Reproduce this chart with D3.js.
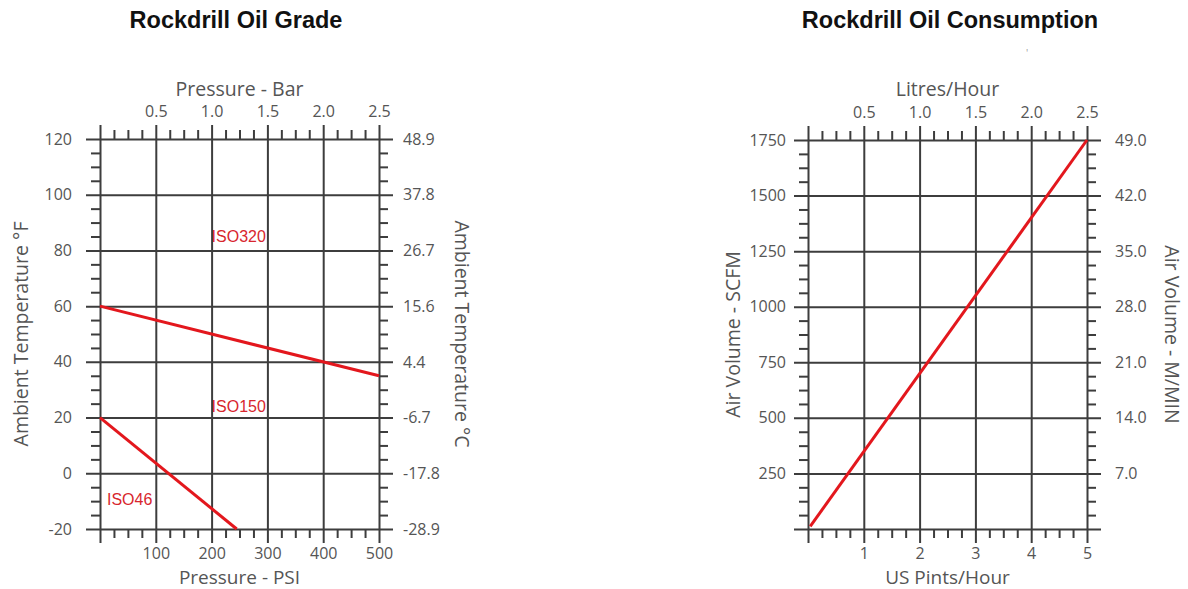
<!DOCTYPE html>
<html>
<head>
<meta charset="utf-8">
<script src="https://cdn.jsdelivr.net/npm/d3@7"></script>
<style>
  html, body { margin: 0; padding: 0; background: #ffffff; }
  svg { display: block; }
  .axis text { font-family: "Open Sans", sans-serif; font-size: 16px; fill: #555555; }
  .axis path.domain { display: none; }
  .axis line { stroke: #3d3d3d; stroke-width: 2; }
  .atitle { font-family: "Open Sans", sans-serif; font-size: 19.5px; fill: #555555; }
  .btitle { font-family: "Open Sans", sans-serif; font-size: 19px; fill: #555555; }
  .ctitle { font-family: "Liberation Sans", Arial, sans-serif; font-size: 23.5px; font-weight: bold; fill: #111111; }
  .iso { font-family: "Liberation Sans", Arial, sans-serif; font-size: 16px; fill: #d8262e; }
</style>
</head>
<body>
<svg id="chart" width="1188" height="589"></svg>
<script>
// ---------------- Chart 1: Rockdrill Oil Grade ----------------
const gradeTitle = "Rockdrill Oil Grade";
const psiTicks = [0, 100, 200, 300, 400, 500];
const psiLabelTicks = [100, 200, 300, 400, 500];
const barTicks = [0.5, 1.0, 1.5, 2.0, 2.5];
const tempFTicks = [-20, 0, 20, 40, 60, 80, 100, 120];
const tempCLabels = ["48.9", "37.8", "26.7", "15.6", "4.4", "-6.7", "-17.8", "-28.9"];
// boundary lines between oil grades
const iso320BoundaryPsi = [0, 500];
const iso320BoundaryTempF = [60, 35];
const iso46BoundaryPsi = [0, 245];
const iso46BoundaryTempF = [20, -20];
// grade labels
const isoLabels = ["ISO320", "ISO150", "ISO46"];
const isoLabelPsi = [200, 200, 12.5];
const isoLabelTempF = [83, 22, -11.5];

// ---------------- Chart 2: Rockdrill Oil Consumption ----------------
const consTitle = "Rockdrill Oil Consumption";
const pintTicks = [0, 1, 2, 3, 4, 5];
const pintLabelTicks = [1, 2, 3, 4, 5];
const litreTicks = [0.5, 1.0, 1.5, 2.0, 2.5];
const scfmTicks = [0, 250, 500, 750, 1000, 1250, 1500, 1750];
const scfmLabelTicks = [250, 500, 750, 1000, 1250, 1500, 1750];
const mminLabels = ["7.0", "14.0", "21.0", "28.0", "35.0", "42.0", "49.0"];
const consPints = [0.04, 5];
const consScfm = [12, 1750];

const svg = d3.select("#chart");

function minorValues(majors, parts) {
  const out = [];
  for (let i = 0; i < majors.length - 1; i++) {
    const a = majors[i], b = majors[i + 1];
    for (let k = 1; k < parts; k++) out.push(a + (b - a) * k / parts);
  }
  return out;
}

const plain = d => String(d);           // ASCII hyphen for negatives
const oneDec = d => d.toFixed(1);

function drawFrame(g, o) {
  const { x, y, xTop, yRight, x0, x1, yT, yB } = o;
  const ext = 14, minorLen = 9;
  // vertical major grid lines (extended beyond plot)
  g.append("g").attr("class", "axis").attr("transform", `translate(0,${yB + ext})`)
    .call(d3.axisBottom(x).tickValues(o.xMajor).tickSizeInner(-(yB - yT + 2 * ext)).tickSizeOuter(0).tickFormat(""));
  // horizontal major grid lines
  g.append("g").attr("class", "axis").attr("transform", `translate(${x0 - ext},0)`)
    .call(d3.axisLeft(y).tickValues(o.yMajor).tickSizeInner(-(x1 - x0 + 2 * ext)).tickSizeOuter(0).tickFormat(""));
  // minor ticks, outside on all four sides
  const xMin = minorValues(o.xMajor, 4), yMin = minorValues(o.yMajor, 4);
  g.append("g").attr("class", "axis").attr("transform", `translate(0,${yB})`)
    .call(d3.axisBottom(x).tickValues(xMin).tickSize(minorLen).tickFormat(""));
  g.append("g").attr("class", "axis").attr("transform", `translate(0,${yT})`)
    .call(d3.axisTop(x).tickValues(xMin).tickSize(minorLen).tickFormat(""));
  g.append("g").attr("class", "axis").attr("transform", `translate(${x0},0)`)
    .call(d3.axisLeft(y).tickValues(yMin).tickSize(minorLen).tickFormat(""));
  g.append("g").attr("class", "axis").attr("transform", `translate(${x1},0)`)
    .call(d3.axisRight(y).tickValues(yMin).tickSize(minorLen).tickFormat(""));
  // tick labels
  g.append("g").attr("class", "axis").attr("transform", `translate(0,${yB})`)
    .call(d3.axisBottom(x).tickValues(o.xLabels).tickSize(0).tickPadding(18.5).tickFormat(plain));
  g.append("g").attr("class", "axis").attr("transform", `translate(0,${yT})`)
    .call(d3.axisTop(xTop).tickValues(o.topLabels).tickSize(0).tickPadding(22).tickFormat(oneDec));
  g.append("g").attr("class", "axis").attr("transform", `translate(${x0},0)`)
    .call(d3.axisLeft(y).tickValues(o.yLabels).tickSize(0).tickPadding(o.leftPad).tickFormat(plain));
  g.append("g").attr("class", "axis").attr("transform", `translate(${x1},0)`)
    .call(d3.axisRight(yRight).tickValues(o.rightLabels.map(Number)).tickSize(0).tickPadding(o.rightPad)
      .tickFormat((d, i) => o.rightLabels[i]));
  // axis titles
  const cx = (x0 + x1) / 2, cy = (yT + yB) / 2;
  g.append("text").attr("class", "atitle").attr("x", cx).attr("y", 96).attr("text-anchor", "middle").text(o.topTitle);
  g.append("text").attr("class", "btitle").attr("x", cx).attr("y", 584).attr("text-anchor", "middle").text(o.bottomTitle);
  g.append("text").attr("class", "atitle").attr("text-anchor", "middle")
    .attr("transform", `translate(${o.leftTitleX},${cy}) rotate(-90)`).text(o.leftTitle);
  g.append("text").attr("class", "atitle").attr("text-anchor", "middle")
    .attr("transform", `translate(${o.rightTitleX},${cy}) rotate(90)`).text(o.rightTitle);
}

// ---- Chart 1 ----
{
  const x0 = 100, x1 = 379, yT = 139, yB = 529;
  const x = d3.scaleLinear().domain([0, 500]).range([x0, x1]);
  const xTop = d3.scaleLinear().domain([0, 2.5]).range([x0, x1]);
  const y = d3.scaleLinear().domain([-20, 120]).range([yB, yT]);
  const yRight = d3.scaleLinear().domain([-28.89, 48.89]).range([yB, yT]);
  const g = svg.append("g");
  drawFrame(g, {
    x, y, xTop, yRight, x0, x1, yT, yB,
    xMajor: psiTicks, yMajor: tempFTicks,
    xLabels: psiLabelTicks, topLabels: barTicks, yLabels: tempFTicks,
    rightLabels: tempCLabels, leftPad: 28, rightPad: 24,
    topTitle: "Pressure - Bar", bottomTitle: "Pressure - PSI",
    leftTitle: "Ambient Temperature °F", rightTitle: "Ambient Temperature °C",
    leftTitleX: 28, rightTitleX: 455
  });
  const line = d3.line().x(d => x(d[0])).y(d => y(d[1]));
  const lines = [
    d3.zip(iso320BoundaryPsi, iso320BoundaryTempF),
    d3.zip(iso46BoundaryPsi, iso46BoundaryTempF)
  ];
  g.selectAll("path.boundary").data(lines).join("path").attr("class", "boundary")
    .attr("d", line).attr("fill", "none").attr("stroke", "#e3171d").attr("stroke-width", 3);
  g.selectAll("text.iso").data(isoLabels).join("text").attr("class", "iso")
    .attr("x", (d, i) => x(isoLabelPsi[i])).attr("y", (d, i) => y(isoLabelTempF[i])).text(d => d);
  svg.append("text").attr("class", "ctitle").attr("x", 236).attr("y", 28).attr("text-anchor", "middle").text(gradeTitle);
}

// ---- Chart 2 ----
{
  const x0 = 808, x1 = 1087, yT = 140, yB = 529;
  const x = d3.scaleLinear().domain([0, 5]).range([x0, x1]);
  const xTop = d3.scaleLinear().domain([0, 2.5]).range([x0, x1]);
  const y = d3.scaleLinear().domain([0, 1750]).range([yB, yT]);
  const yRight = d3.scaleLinear().domain([0, 49]).range([yB, yT]);
  const g = svg.append("g");
  drawFrame(g, {
    x, y, xTop, yRight, x0, x1, yT, yB,
    xMajor: pintTicks, yMajor: scfmTicks,
    xLabels: pintLabelTicks, topLabels: litreTicks, yLabels: scfmLabelTicks,
    rightLabels: mminLabels, leftPad: 22, rightPad: 28,
    topTitle: "Litres/Hour", bottomTitle: "US Pints/Hour",
    leftTitle: "Air Volume - SCFM", rightTitle: "Air Volume - M/MIN",
    leftTitleX: 740, rightTitleX: 1165
  });
  const line = d3.line().x(d => x(d[0])).y(d => y(d[1]));
  g.append("path").datum(d3.zip(consPints, consScfm))
    .attr("d", line).attr("fill", "none").attr("stroke", "#e3171d").attr("stroke-width", 3);
  svg.append("text").attr("class", "ctitle").attr("x", 950).attr("y", 28).attr("text-anchor", "middle").text(consTitle);
  svg.append("text").attr("x", 1026).attr("y", 57).attr("font-size", 10)
    .attr("font-family", "Open Sans, sans-serif").attr("fill", "#9a9a9a").text("'");
}
</script>
</body>
</html>
